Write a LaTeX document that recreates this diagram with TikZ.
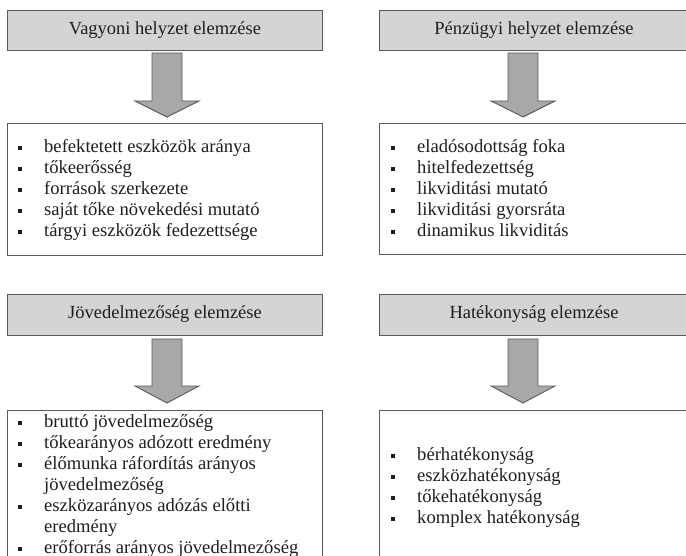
\documentclass[tikz,border=0pt]{standalone}
\usepackage{fontspec}
\setmainfont{Liberation Serif}
\usepackage{array}
\definecolor{headfill}{HTML}{D4D4D4}
\definecolor{framecol}{HTML}{5A5A5A}
\definecolor{arrowfill}{HTML}{A8A8A8}
\definecolor{inkcol}{HTML}{1E1E1E}
\newcommand{\sqbullet}{\raisebox{3.3pt}{\rule{3.5pt}{3.5pt}}}
% block arrow: centre x, shaft top, head start, tip
\newcommand{\blockarrow}[4]{%
  \draw[arrowbox] (#1-15,#2) -- (#1+15,#2) -- (#1+15,#3) -- (#1+32,#3)
    -- (#1,#4) -- (#1-32,#3) -- (#1-15,#3) -- cycle;}
\begin{document}
\begin{tikzpicture}[x=1pt,y=-1pt,
  headbox/.style={draw=framecol, line width=0.9pt, fill=headfill},
  listbox/.style={draw=framecol, line width=0.9pt},
  arrowbox/.style={draw=framecol, line width=0.9pt, fill=arrowfill, line join=miter},
  headtext/.style={text=inkcol, font=\fontsize{18.5}{21}\selectfont, inner sep=0pt},
  itemlist/.style={text=inkcol, font=\fontsize{18.6}{21}\selectfont, inner sep=0pt,
    anchor=north west, align=left}]
\useasboundingbox (0,0) rectangle (686,556);
\begin{scope}
\clip (0,0) rectangle (686,556);
% header boxes
\draw[headbox] (7,10) rectangle (322,50);
\draw[headbox] (379,10) rectangle (700,50);
\draw[headbox] (7,294) rectangle (322,335);
\draw[headbox] (379,294) rectangle (700,335);
\node[headtext] (h1) at (165,30) {Vagyoni helyzet elemzése};
\node[headtext] (h2) at (534,30) {Pénzügyi helyzet elemzése};
\node[headtext] (h3) at (165,314.5) {Jövedelmezőség elemzése};
\node[headtext] (h4) at (534,314.5) {Hatékonyság elemzése};
% arrows between header and list
\blockarrow{167}{53}{101}{117}
\blockarrow{523}{53}{101}{117}
\blockarrow{167}{339}{386}{403}
\blockarrow{523}{339}{386}{403}
% list boxes
\draw[listbox] (7,123) rectangle (322,255);
\draw[listbox] (379,123) rectangle (700,254);
\draw[listbox] (7,410) -- (7,600) (7,410) -- (322,410) -- (322,600);
\draw[listbox] (379,410) -- (379,600) (379,410) -- (700,410);
% list contents
\node[itemlist] (l1) at (18,138) {%
  \begin{tabular}{@{}p{26pt}@{}l@{}}
  \sqbullet & befektetett eszközök aránya\\
  \sqbullet & tőkeerősség\\
  \sqbullet & források szerkezete\\
  \sqbullet & saját tőke növekedési mutató\\
  \sqbullet & tárgyi eszközök fedezettsége
  \end{tabular}};
\node[itemlist] (l2) at (391,138) {%
  \begin{tabular}{@{}p{26pt}@{}l@{}}
  \sqbullet & eladósodottság foka\\
  \sqbullet & hitelfedezettség\\
  \sqbullet & likviditási mutató\\
  \sqbullet & likviditási gyorsráta\\
  \sqbullet & dinamikus likviditás
  \end{tabular}};
\node[itemlist] (l3) at (18,413) {%
  \begin{tabular}{@{}p{26pt}@{}l@{}}
  \sqbullet & bruttó jövedelmezőség\\
  \sqbullet & tőkearányos adózott eredmény\\
  \sqbullet & élőmunka ráfordítás arányos\\
            & jövedelmezőség\\
  \sqbullet & eszközarányos adózás előtti\\
            & eredmény\\
  \sqbullet & erőforrás arányos jövedelmezőség
  \end{tabular}};
\node[itemlist] (l4) at (391,446) {%
  \begin{tabular}{@{}p{26pt}@{}l@{}}
  \sqbullet & bérhatékonyság\\
  \sqbullet & eszközhatékonyság\\
  \sqbullet & tőkehatékonyság\\
  \sqbullet & komplex hatékonyság
  \end{tabular}};
\end{scope}
\end{tikzpicture}
\end{document}
